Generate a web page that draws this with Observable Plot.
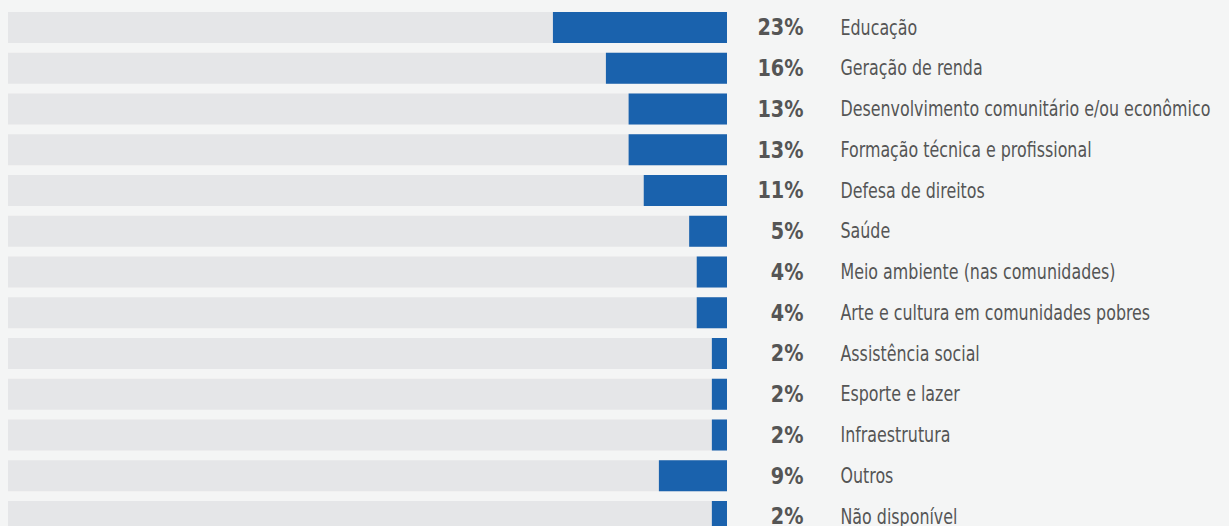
<!DOCTYPE html>
<html>
<head>
<meta charset="utf-8">
<script src="https://cdn.jsdelivr.net/npm/d3@7"></script>
<script src="https://cdn.jsdelivr.net/npm/@observablehq/plot@0.6"></script>
<style>
  html, body { margin: 0; padding: 0; background: #f4f5f5; overflow: hidden; }
  svg text { font-stretch: condensed; }
</style>
</head>
<body>
<div id="chart"></div>
<script>
const categories = [
  "Educação",
  "Geração de renda",
  "Desenvolvimento comunitário e/ou econômico",
  "Formação técnica e profissional",
  "Defesa de direitos",
  "Saúde",
  "Meio ambiente (nas comunidades)",
  "Arte e cultura em comunidades pobres",
  "Assistência social",
  "Esporte e lazer",
  "Infraestrutura",
  "Outros",
  "Não disponível"
];
const values = [23, 16, 13, 13, 11, 5, 4, 4, 2, 2, 2, 9, 2];
const fullScale = 95;

const data = categories.map((c, i) => ({category: c, value: values[i], full: fullScale}));

const font = "'DejaVu Sans Condensed', 'DejaVu Sans', sans-serif";

const chart = Plot.plot({
  width: 1229,
  height: 526,
  marginTop: 0, marginBottom: 0, marginLeft: 0, marginRight: 0,
  style: {background: "#f4f5f5", fontFamily: font, overflow: "hidden"},
  x: {domain: [0, fullScale], range: [727, 8], axis: null},
  y: {domain: categories, range: [2.25, 541.75], padding: 0.2393, round: false, axis: null},
  marks: [
    Plot.barX(data, {x1: 0, x2: "full", y: "category", fill: "#e5e6e8"}),
    Plot.barX(data, {x1: 0, x2: "value", y: "category", fill: "#1a62ad"}),
    Plot.text(data, {
      x: 0, y: "category", text: d => d.value + "%", className: "pct",
      dx: 76, textAnchor: "end", fontSize: 23, fontWeight: "bold", fill: "#555555"
    }),
    Plot.text(data, {
      x: 0, y: "category", text: "category", className: "cat",
      dx: 113, textAnchor: "start", fontSize: 21, fill: "#555555"
    })
  ]
});
document.getElementById("chart").appendChild(chart);

// narrow the glyphs to mimic the condensed typeface of the original
function squeeze(sel, factor) {
  chart.querySelectorAll(sel + " text").forEach(t => {
    const w = t.getComputedTextLength();
    t.setAttribute("textLength", (w * factor).toFixed(2));
    t.setAttribute("lengthAdjust", "spacingAndGlyphs");
  });
}
squeeze(".pct", 0.93);
squeeze(".cat", 0.84);
</script>
</body>
</html>
